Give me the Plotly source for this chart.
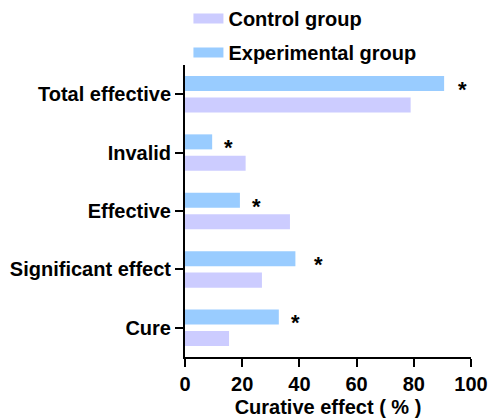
import plotly.graph_objects as go

categories = ["Cure", "Significant effect", "Effective", "Invalid", "Total effective"]
control_values = [15.4, 26.9, 36.7, 21.2, 78.9]
experimental_values = [32.8, 38.6, 19.2, 9.5, 90.6]
series_names = ["Control group", "Experimental group"]
star_labels = ["*", "*", "*", "*", "*"]
x_tick_values = [0, 20, 40, 60, 80, 100]

CONTROL_COLOR = "#CCCCFF"
EXP_COLOR = "#99CCFF"
FONT = dict(family="Arial, Liberation Sans, sans-serif", size=20, color="black", weight="bold")

fig = go.Figure()
fig.add_trace(go.Bar(y=categories, x=control_values, orientation="h", marker=dict(color=CONTROL_COLOR, line=dict(width=0)),
                     name=series_names[0], showlegend=False))
fig.add_trace(go.Bar(y=categories, x=experimental_values, orientation="h", marker=dict(color=EXP_COLOR, line=dict(width=0)),
                     name=series_names[1], showlegend=False))

# legend entries (wide swatches)
for nm, col, grp in [(series_names[0], CONTROL_COLOR, "a"), (series_names[1], EXP_COLOR, "b")]:
    fig.add_trace(go.Scatter(x=[None], y=[None], mode="lines", line=dict(color=col, width=12),
                             name=nm, legendgroup=grp, showlegend=True))

star_shift = [17, 23, 17, 16, 18]
for cat, v, s, sh in zip(categories, experimental_values, star_labels, star_shift):
    fig.add_annotation(x=v, y=cat, text=s, showarrow=False, xanchor="center", yanchor="middle",
                       xshift=sh, yshift=5, font=dict(family=FONT["family"], size=22, color="black", weight="bold"))

fig.update_layout(
    width=489, height=418,
    margin=dict(l=185, r=18, t=65, b=61, autoexpand=False),
    paper_bgcolor="white", plot_bgcolor="white",
    barmode="group", bargap=0.265, bargroupgap=0.3,
    font=FONT,
    legend=dict(x=0.012, xanchor="left", y=1.226, yanchor="top", traceorder="grouped",
                tracegroupgap=5, font=FONT, bgcolor="rgba(0,0,0,0)"),
)
fig.update_xaxes(range=[0, 100], tickvals=x_tick_values, showgrid=False, zeroline=False,
                 showline=True, linecolor="black", linewidth=2, ticks="outside", ticklen=8, tickwidth=2,
                 tickcolor="black", tickfont=FONT, automargin=False,
                 title=dict(text="Curative effect ( % )", font=FONT, standoff=6))
fig.update_yaxes(showgrid=False, zeroline=False, showline=True, linecolor="black", linewidth=2,
                 ticks="outside", ticklen=8, tickwidth=2, tickcolor="black", tickfont=FONT, automargin=False)

fig.write_html("out.html")
